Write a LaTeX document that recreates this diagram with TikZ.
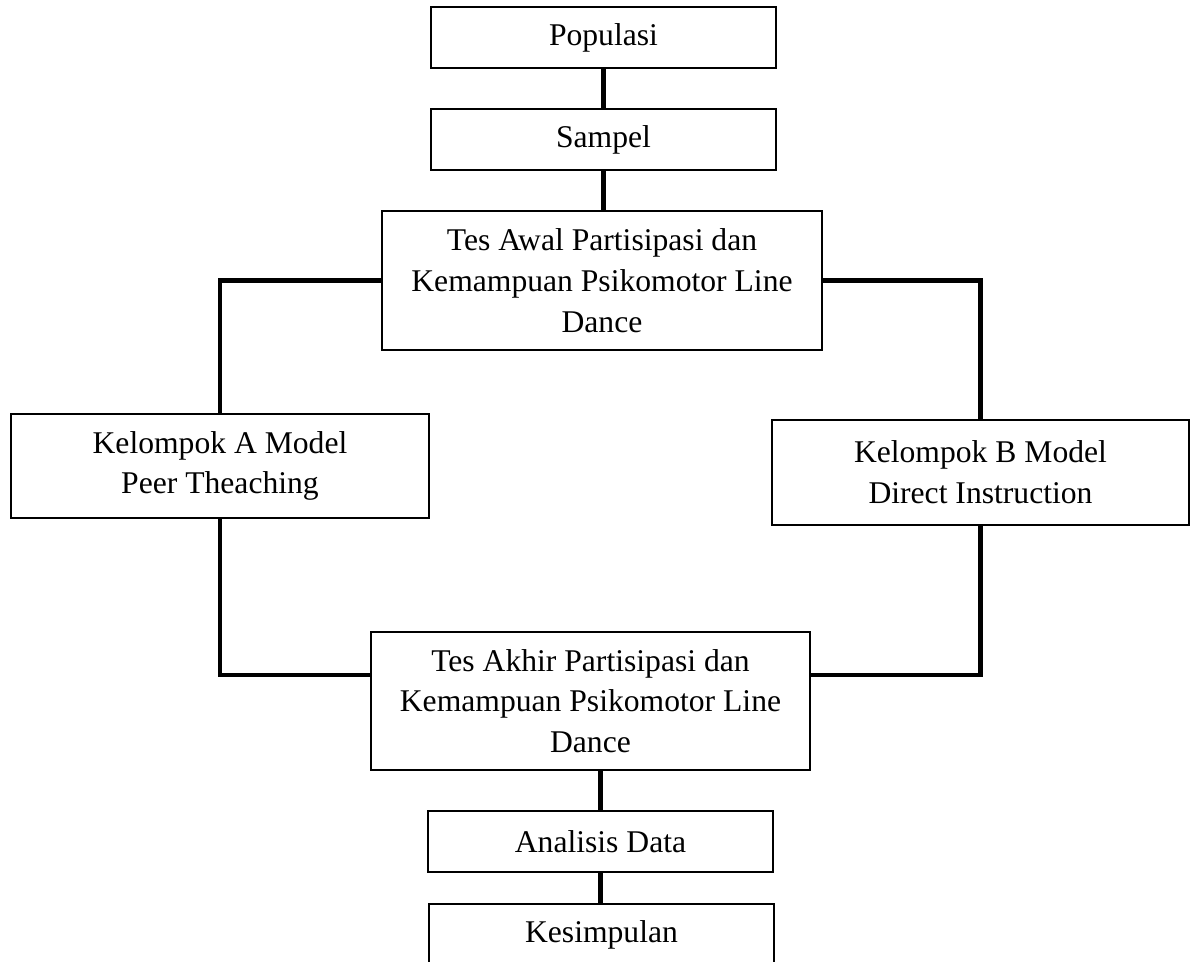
\documentclass[tikz,border=0pt]{standalone}
\usepackage{fontspec}
\setmainfont{Liberation Serif}
\begin{document}
\begin{tikzpicture}[x=0.02cm,y=-0.02cm,line join=miter,
    box/.style={draw,line width=1.1pt,align=center,inner sep=0pt,font=\fontsize{18}{23.2}\selectfont},
    small/.style={box,minimum width=6.9cm,minimum height=1.22cm},
    wide/.style={box,minimum width=8.8cm,minimum height=2.77cm},
    group/.style={box,minimum width=8.35cm,minimum height=2.09cm},
    link/.style={line width=2.4pt}]
  \useasboundingbox (0,0) rectangle (1191,962);
  \node[small] (pop) at (603.5,37.5) {Populasi};
  \node[small] (sam) at (603.5,139.5) {Sampel};
  \node[wide] (awal) at (602,280.5) {Tes Awal Partisipasi dan\\Kemampuan Psikomotor Line\\Dance};
  \node[group] (ka) at (220,466) {Kelompok A Model\\Peer Theaching};
  \node[group] (kb) at (980.5,472.5) {Kelompok B Model\\Direct Instruction};
  \node[wide] (akhir) at (590.5,701) {Tes Akhir Partisipasi dan\\Kemampuan Psikomotor Line\\Dance};
  \node[small] (ana) at (600.5,841.5) {Analisis Data};
  \node[small] (kes) at (601.5,934.5) {Kesimpulan};

  \draw[link] (pop.south) -- (sam.north);
  \draw[link] (sam.south) -- (sam.south |- awal.north);
  \draw[link] (awal.west) -| (ka.north);
  \draw[link] (awal.east) -| (kb.north);
  \draw[link] (ka.south) |- ([yshift=0.52cm]akhir.west);
  \draw[link] (kb.south) |- ([yshift=0.52cm]akhir.east);
  \draw[link] (akhir.south -| ana.north) -- (ana.north);
  \draw[link] (ana.south) -- (ana.south |- kes.north);
\end{tikzpicture}
\end{document}
